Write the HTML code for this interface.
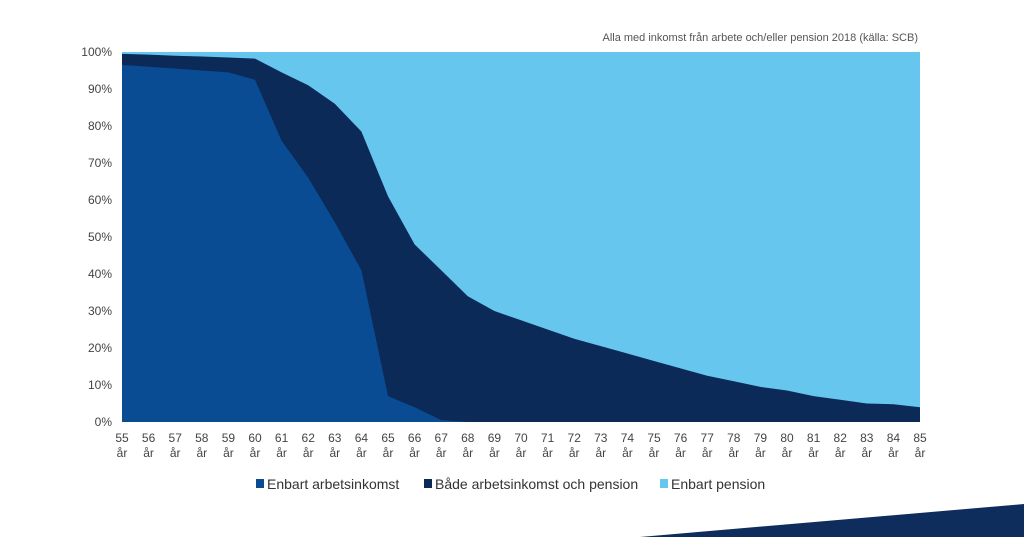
<!DOCTYPE html>
<html><head><meta charset="utf-8"><style>
body{margin:0;background:#fff;width:1024px;height:537px;overflow:hidden;font-family:"Liberation Sans",sans-serif}
</style></head><body>
<svg id="s" width="1024" height="537" xmlns="http://www.w3.org/2000/svg" font-family="Liberation Sans, sans-serif">
<polygon points="640,537 1024,504 1024,537" fill="#0f2d5c"/>
<text x="918" y="41" font-size="11" fill="#555" text-anchor="end">Alla med inkomst från arbete och/eller pension 2018 (källa: SCB)</text>
<rect x="122" y="52" width="798" height="370" fill="#66c6ee"/>
<g id="g"></g>
<g font-size="12" fill="#444" text-anchor="end" id="yl"></g>
<g font-size="12" fill="#444" text-anchor="middle" id="xl"></g>
<rect x="256" y="479" width="8" height="9" fill="#0a4c93"/>
<text x="267" y="489" font-size="14" fill="#333">Enbart arbetsinkomst</text>
<rect x="424" y="479" width="8" height="9" fill="#0b2a58"/>
<text x="435" y="489" font-size="14" fill="#333">Både arbetsinkomst och pension</text>
<rect x="660" y="479" width="8" height="9" fill="#66c6ee"/>
<text x="671" y="489" font-size="14" fill="#333">Enbart pension</text>
</svg>
<script>
var a=[96.5,96,95.5,95,94.5,92.5,76,66,54,41,7,4,0.5,0,0,0,0,0,0,0,0,0,0,0,0,0,0,0,0,0,0];
var t=[99.5,99.3,99,98.8,98.5,98.2,94.5,91,86,78.5,61,48,41,34,30,27.5,25,22.5,20.5,18.5,16.5,14.5,12.5,11,9.5,8.5,7,6,5,4.8,4];
function X(i){return 122+i*26.6}function Y(v){return 422-v*3.7}
function poly(d,c){var p=[];for(var i=0;i<31;i++)p.push(X(i)+","+Y(d[i]));p.push("920,422","122,422");return '<polygon points="'+p.join(" ")+'" fill="'+c+'"/>'}
document.getElementById("g").innerHTML=poly(t,"#0b2a58")+poly(a,"#0a4c93");
var y="";for(var k=0;k<=10;k++)y+='<text x="112" y="'+(Y(k*10)+4)+'">'+(k*10)+'%</text>';
document.getElementById("yl").innerHTML=y;
var x="";for(var i=0;i<31;i++){x+='<text x="'+X(i)+'" y="442">'+(55+i)+'</text><text x="'+X(i)+'" y="457">år</text>';}
document.getElementById("xl").innerHTML=x;
</script>
</body></html>
